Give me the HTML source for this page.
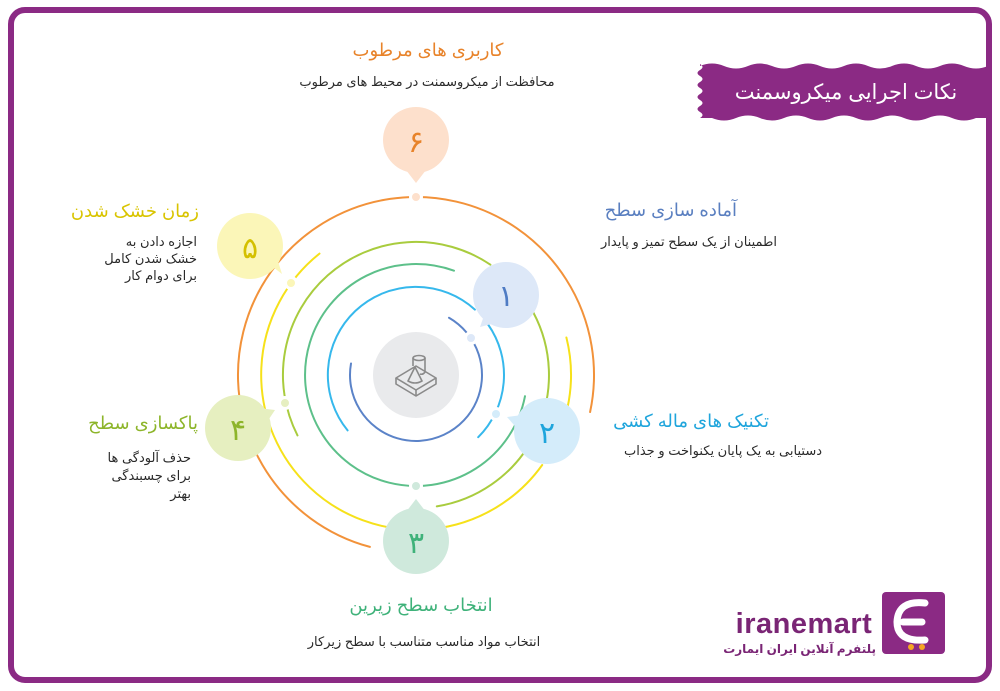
<!DOCTYPE html>
<html><head><meta charset="utf-8"><style>
html,body{margin:0;padding:0;background:#fff}
svg{display:block}
text{font-family:"Liberation Sans","Noto Sans CJK SC","DejaVu Sans",sans-serif}
</style></head><body>
<svg width="1000" height="691" viewBox="0 0 1000 691" xmlns="http://www.w3.org/2000/svg">
<rect x="11" y="10" width="978" height="670" rx="14" fill="#fff" stroke="#8b2a84" stroke-width="6"/>
<path d="M700 66 q12 -5 24 0 t24 0 t24 0 t24 0 t24 0 t24 0 t24 0 t24 0 t24 0 t24 0 t24 0 t24 0 L990 66 L990 118 L976 118 q-12 5 -24 0 t-24 0 t-24 0 t-24 0 t-24 0 t-24 0 t-24 0 t-24 0 t-24 0 t-24 0 t-24 0 L700 118 q5 -3 0 -6 t0 -6 t0 -6 t0 -6 t0 -6 t0 -6 t0 -6 t0 -6 t0 -6 Z" fill="#8b2a84"/>
<text x="846" y="99" text-anchor="middle" font-size="21" fill="#fff" direction="rtl">نکات اجرایی میکروسمنت</text>

<g fill="none" stroke-width="2" stroke-linecap="round">
<path d="M369.9 546.9 A178 178 0 1 1 590.1 412.0" stroke="#f2923a"/>
<path d="M542.2 465.0 A155 155 0 1 1 319.5 253.6" stroke="#f6e11a"/>
<path d="M566.4 337.5 A155 155 0 0 1 567.6 407.2" stroke="#f6e11a"/>
<path d="M490.4 264.7 A133 133 0 0 0 297.5 435.4" stroke="#a9cc3e"/>
<path d="M533.4 312.6 A133 133 0 0 1 436.8 506.4" stroke="#a9cc3e"/>
<path d="M525.0 396.2 A111 111 0 1 1 454.0 270.7" stroke="#5dc08a"/>
<path d="M347.6 430.4 A88 88 0 0 1 474.9 309.6" stroke="#36b8ec"/>
<path d="M488.1 324.5 A88 88 0 0 1 478.2 437.2" stroke="#36b8ec"/>
<path d="M449.0 317.8 A66 66 0 1 1 351.0 363.5" stroke="#5b83c8"/>
</g>
<g stroke="#fff" stroke-width="3">
<circle cx="416" cy="197" r="5.5" fill="#fde0cc"/>
<circle cx="291" cy="283" r="5.5" fill="#fbf6b8"/>
<circle cx="285" cy="403" r="5.5" fill="#e6efc0"/>
<circle cx="471" cy="338" r="5.5" fill="#dde8f8"/>
<circle cx="496" cy="414" r="5.5" fill="#d4ecfa"/>
<circle cx="416" cy="486" r="5.5" fill="#cfe9dc"/>
</g>
<circle cx="416" cy="375" r="43" fill="#e9eaec"/>
<g fill="none" stroke="#8a8a8a" stroke-width="1.6" stroke-linejoin="round">
<path d="M396 378 L416 366 L436 378 L416 390 Z"/>
<path d="M396 378 L396 384 L416 396 L436 384 L436 378"/>
<path d="M416 390 L416 396"/>
<path d="M408 381 L415 367 L422 381 Q415 385 408 381 Z"/>
<ellipse cx="419" cy="358" rx="6" ry="2.5"/>
<path d="M413 358 L413 366 M425 358 L425 372 Q423 375 420 374"/>
</g>
<g>
<circle cx="506" cy="295" r="33" fill="#dde8f8"/><path d="M486 310 L480 327 L499 322 Z" fill="#dde8f8"/>
<circle cx="547" cy="431" r="33" fill="#d4ecfa"/><path d="M522 415 L507 417 L520 432 Z" fill="#d4ecfa"/>
<circle cx="416" cy="541" r="33" fill="#cfe9dc"/><path d="M406 512 L416 499 L426 512 Z" fill="#cfe9dc"/>
<circle cx="238" cy="428" r="33" fill="#e6efc0"/><path d="M258 408 L275 410 L265 425 Z" fill="#e6efc0"/>
<circle cx="250" cy="246" r="33" fill="#fbf6b8"/><path d="M264 260 L282 274 L276 255 Z" fill="#fbf6b8"/>
<circle cx="416" cy="140" r="33" fill="#fde0cc"/><path d="M406 170 L416 183 L426 170 Z" fill="#fde0cc"/>
</g>
<g font-size="30" text-anchor="middle">
<text x="506" y="306" fill="#4f7cc4">۱</text>
<text x="547" y="443" fill="#1fa5dc">۲</text>
<text x="416" y="553" fill="#3fb27a">۳</text>
<text x="238" y="440" fill="#8db52a">۴</text>
<text x="250" y="258" fill="#d4c000">۵</text>
<text x="416" y="152" fill="#e8832a">۶</text>
</g>
<g direction="rtl">
<text x="428" y="56" text-anchor="middle" font-size="18" fill="#e8832a">کاربری های مرطوب</text>
<text x="427" y="86" text-anchor="middle" font-size="13" fill="#2a2a2a">محافظت از میکروسمنت در محیط های مرطوب</text>
<text x="737" y="216" font-size="18" fill="#5a7fc0">آماده سازی سطح</text>
<text x="777" y="246" font-size="13" fill="#2a2a2a">اطمینان از یک سطح تمیز و پایدار</text>
<text x="769" y="427" font-size="18" fill="#1fa5dc">تکنیک های ماله کشی</text>
<text x="822" y="455" font-size="13" fill="#2a2a2a">دستیابی به یک پایان یکنواخت و جذاب</text>
<text x="421" y="611" text-anchor="middle" font-size="18" fill="#3fb27a">انتخاب سطح زیرین</text>
<text x="424" y="646" text-anchor="middle" font-size="13" fill="#2a2a2a">انتخاب مواد مناسب متناسب با سطح زیرکار</text>
<text x="198" y="429" font-size="18" fill="#8db52a">پاکسازی سطح</text>
<text x="191" y="462" font-size="13" fill="#2a2a2a">حذف آلودگی ها</text>
<text x="191" y="480" font-size="13" fill="#2a2a2a">برای چسبندگی</text>
<text x="191" y="498" font-size="13" fill="#2a2a2a">بهتر</text>
<text x="199" y="217" font-size="18" fill="#d9c400">زمان خشک شدن</text>
<text x="197" y="246" font-size="13" fill="#2a2a2a">اجازه دادن به</text>
<text x="197" y="263" font-size="13" fill="#2a2a2a">خشک شدن کامل</text>
<text x="197" y="280" font-size="13" fill="#2a2a2a">برای دوام کار</text>
</g>
<rect x="882" y="592" width="63" height="62" rx="4" fill="#8b2a84"/>
<path d="M925 603 Q898 600 897 622 Q897 642 925 640 M903 622 L922 622" fill="none" stroke="#fff" stroke-width="7" stroke-linecap="round"/>
<circle cx="911" cy="647" r="3" fill="#f5a623"/><circle cx="922" cy="647" r="3" fill="#f5a623"/>
<text x="804" y="633" text-anchor="middle" font-size="29" font-weight="bold" fill="#7a2575" letter-spacing="0.5">iranemart</text>
<text x="876" y="653" font-size="12" font-weight="bold" fill="#7a2575" direction="rtl">پلتفرم آنلاین ایران ایمارت</text>
</svg>
</body></html>
